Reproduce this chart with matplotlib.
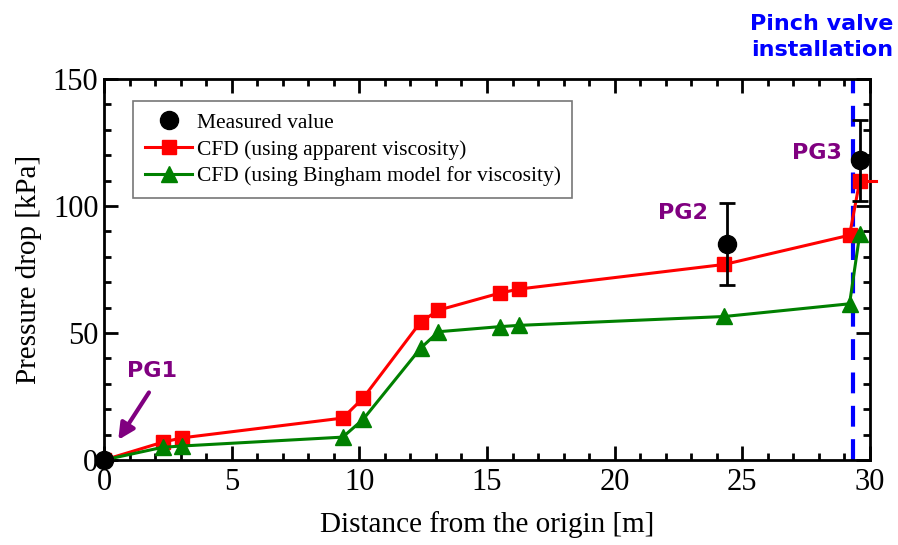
import numpy as np
import matplotlib
matplotlib.use('Agg')
import matplotlib.pyplot as plt
from matplotlib.ticker import MultipleLocator
from matplotlib.lines import Line2D

plt.rcParams['font.family'] = ['Liberation Serif']

# data
dist_cfd = [0, 2.3, 3.05, 9.35, 10.15, 12.4, 13.1, 15.5, 16.25, 24.3, 29.2, 29.6]
p_apparent = [0, 7, 8.7, 16.5, 24.4, 54.3, 59, 65.7, 67.3, 77, 88.5, 110]
p_bingham = [0, 5, 5.5, 9, 16, 44, 50.5, 52.5, 53, 56.5, 61.5, 89]
dist_meas = [0, 24.4, 29.6]
p_meas = [0, 85, 118]
err_meas = [0, 16, 16]
valve_pos = 29.35

fig = plt.figure(figsize=(8.98, 5.45), dpi=100)
ax = fig.add_axes([0.1158, 0.156, 0.853, 0.699])

ax.plot(dist_cfd, p_apparent, '-s', color='red', lw=2.2, ms=10, zorder=3)
# short tail after the last point (goes past the frame)
ax.plot([dist_cfd[-1], 30.25], [p_apparent[-1], p_apparent[-1]], '-', color='red',
        lw=2.2, clip_on=False, zorder=3)
ax.plot(dist_cfd, p_bingham, '-^', color='green', lw=2.2, ms=12, zorder=3)
ax.errorbar(dist_meas, p_meas, yerr=err_meas, fmt='o', color='black', ms=13,
            capsize=6, elinewidth=2, capthick=2, zorder=4, clip_on=False)
ax.axvline(valve_pos, color='blue', ls=(0, (5, 3)), lw=3, zorder=2)

ax.set_xlim(0, 30)
ax.set_ylim(0, 150)
ax.xaxis.set_major_locator(MultipleLocator(5))
ax.xaxis.set_minor_locator(MultipleLocator(1))
ax.yaxis.set_major_locator(MultipleLocator(50))
ax.yaxis.set_minor_locator(MultipleLocator(10))
ax.tick_params(which='both', direction='in', top=True, right=True, width=2,
               labelsize=22)
ax.tick_params(axis='x', pad=6)
ax.tick_params(axis='y', pad=4)
ax.tick_params(which='major', length=10)
ax.tick_params(which='minor', length=5)
for s in ax.spines.values():
    s.set_linewidth(2)

ax.set_xlabel('Distance from the origin [m]', fontsize=21, labelpad=10)
ax.set_ylabel('Pressure drop [kPa]', fontsize=21, labelpad=8)

# legend handles without the error bars
handles = [
    Line2D([], [], ls='none', marker='o', color='black', ms=13),
    Line2D([], [], ls='-', marker='s', color='red', lw=2.2, ms=10),
    Line2D([], [], ls='-', marker='^', color='green', lw=2.2, ms=12),
]
labels = ['Measured value', 'CFD (using apparent viscosity)',
          'CFD (using Bingham model for viscosity)']
leg = ax.legend(handles, labels, loc='upper left',
                bbox_to_anchor=(0.038, 0.942), fontsize=15.5, frameon=True,
                fancybox=False, edgecolor='#555555', handlelength=2.2,
                handletextpad=0.2, borderaxespad=0, labelspacing=0.3,
                borderpad=0.55)
leg.get_frame().set_linewidth(1.2)

purple = '#800080'
ax.text(1.88, 35, 'PG1', color=purple, fontsize=16, fontweight='bold',
        family='DejaVu Sans', ha='center', va='center')
ax.annotate('', xy=(0.5, 7), xytext=(1.82, 27.5),
            arrowprops=dict(arrowstyle='-|>', color=purple, lw=3,
                            mutation_scale=24))
ax.text(22.68, 97.2, 'PG2', color=purple, fontsize=16, fontweight='bold',
        family='DejaVu Sans', ha='center', va='center')
ax.text(27.93, 120.9, 'PG3', color=purple, fontsize=16, fontweight='bold',
        family='DejaVu Sans', ha='center', va='center')
fig.text(0.9154, 0.932, 'Pinch valve\ninstallation', color='blue', fontsize=16,
         fontweight='bold', family='DejaVu Sans', ha='center', va='center',
         linespacing=1.35)

fig.savefig('out.png', dpi=100)
